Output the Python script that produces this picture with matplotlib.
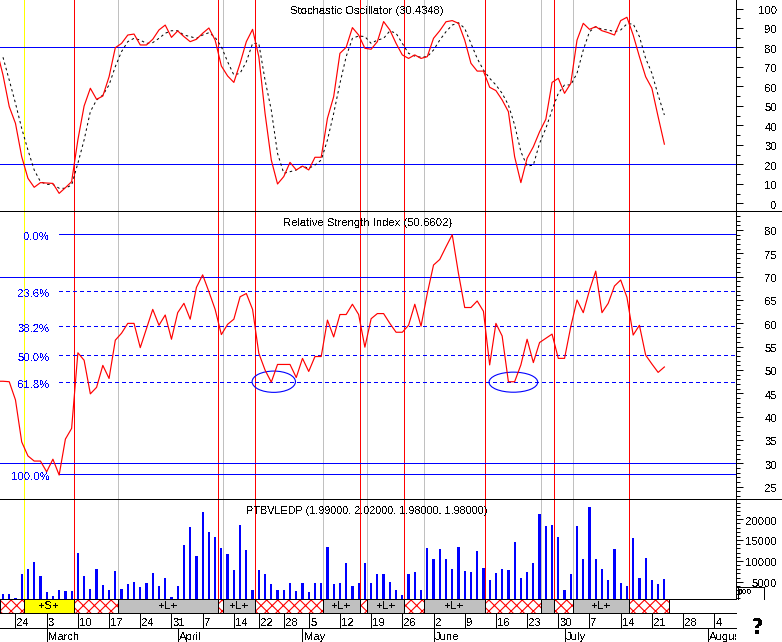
"""Stochastic, RSI and volume panels for PTBVLEDP, daily bars March to August"""

import matplotlib
matplotlib.use("Agg")
import matplotlib.pyplot as plt
from matplotlib.lines import Line2D
from matplotlib.patches import Ellipse, Rectangle

stoch_k = [65.9, 49.7, 41.1, 24.0, 12.9, 8.3, 10.7, 10.5, 10.3, 5.2, 8.1, 11.2, 32.6, 50.0, 59.1, 53.4, 55.1, 65.0,
           79.9, 82.1, 86.4, 86.9, 81.3, 81.3, 84.2, 89.0, 91.5, 85.2, 88.5, 85.6, 83.0, 84.2, 87.3, 90.0, 83.8, 70.5,
           65.4, 62.1, 71.9, 83.0, 89.3, 75.3, 46.2, 22.3, 10.0, 13.8, 21.1, 17.2, 19.2, 17.2, 23.7, 23.7, 43.7, 54.8,
           77.0, 80.1, 90.2, 86.4, 79.6, 79.1, 83.0, 93.3, 89.0, 82.1, 76.2, 74.4, 76.2, 74.4, 75.3, 84.7, 88.6, 93.2,
           93.8, 92.4, 83.8, 71.9, 67.9, 67.9, 59.6, 57.9, 53.1, 47.1, 24.0, 10.7, 23.2, 29.1, 36.8, 43.2, 62.1, 64.2,
           56.5, 61.6, 83.8, 92.4, 89.3, 90.7, 88.6, 87.6, 86.4, 93.8, 95.5, 86.4, 75.3, 65.0, 59.1, 44.5, 30.43]
stoch_d = [75.0, 63.3, 51.4, 38.5, 27.4, 17.2, 11.2, 9.8, 9.8, 7.8, 7.8, 9.5, 20.6, 32.6, 47.1, 53.1, 55.6, 60.8,
           70.2, 77.9, 83.0, 84.7, 83.8, 82.1, 82.5, 84.7, 87.3, 88.6, 88.6, 86.4, 85.6, 84.7, 86.4, 87.6, 85.2, 80.4,
           72.7, 65.9, 66.8, 72.7, 82.1, 82.1, 63.3, 47.9, 25.7, 15.5, 16.3, 17.2, 19.2, 18.0, 19.7, 22.3, 32.6, 46.2,
           61.6, 75.3, 84.7, 85.9, 85.6, 82.1, 83.8, 84.7, 88.5, 87.3, 82.1, 77.0, 75.6, 75.0, 75.3, 78.7, 83.8, 88.1,
           91.5, 92.7, 89.8, 82.1, 74.4, 68.5, 64.2, 60.8, 56.5, 50.5, 40.3, 26.6, 19.2, 19.7, 30.9, 38.5, 47.9, 56.5,
           60.8, 60.8, 66.8, 78.7, 88.1, 90.7, 89.3, 89.0, 88.1, 89.0, 92.1, 92.1, 85.6, 74.4, 66.8, 55.6, 45.4]
rsi = [47.6, 47.5, 43.6, 34.6, 31.6, 30.5, 30.5, 28.2, 30.9, 27.5, 35.2, 37.5, 53.7, 52.1, 44.9, 46.3, 51.0, 48.2,
       56.4, 57.9, 60.0, 60.0, 54.8, 58.9, 63.0, 59.6, 61.8, 56.6, 62.3, 64.3, 60.9, 67.7, 70.4, 66.8, 63.0, 57.6,
       59.8, 60.9, 65.7, 66.4, 63.0, 53.6, 50.0, 47.4, 51.2, 51.2, 51.2, 48.4, 52.5, 49.7, 52.9, 52.9, 60.7, 57.1,
       61.9, 61.9, 64.1, 61.9, 54.9, 61.0, 62.1, 62.1, 60.0, 58.1, 58.1, 59.6, 64.1, 59.4, 66.4, 72.5, 73.7, 76.4,
       79.0, 70.7, 63.4, 63.4, 64.8, 62.6, 51.1, 60.0, 57.3, 47.5, 47.5, 51.1, 56.6, 51.6, 55.9, 56.8, 57.7, 52.5,
       52.5, 59.3, 65.0, 62.3, 67.1, 71.2, 62.3, 64.3, 68.0, 69.3, 65.6, 57.5, 59.6, 53.2, 51.3, 49.5, 50.66]
volume = [2040, 2040, 1080, 6840, 8040, 9720, 6360, 2440, 1560, 3000, 2760, 2760, 11880, 6360, 3240, 8040, 4200, 3000,
          7560, 3240, 4440, 4920, 3720, 4680, 7080, 3960, 5880, 1320, 3960, 13800, 18120, 11160, 21720, 16920, 15720,
          13080, 11640, 7800, 18600, 12600, 3000, 7800, 6840, 4440, 3000, 3000, 4680, 2760, 4680, 2520, 4680, 4680,
          13320, 4440, 4680, 9480, 3960, 4680, 9480, 4680, 6840, 6840, 4920, 3000, 1800, 6840, 7320, 3000, 13080,
          10440, 12840, 10440, 8040, 13320, 7560, 7320, 12360, 8280, 5400, 7080, 8040, 7800, 14520, 5880, 7320, 9480,
          21240, 18360, 18600, 15720, 3000, 6840, 18360, 10440, 22920, 10440, 8040, 5400, 12840, 4680, 3960, 15480,
          5880, 10680, 5400, 4440, 5640]

red_days = [11.3, 34.4, 40.4, 57.2, 64.3, 77.3, 88.3, 100.4]
gray_days = [18.5, 35.3, 51.3, 58.4, 67.4, 86.3, 91.3]
yellow_days = [3.4]

fib_levels = [79.07, 66.86, 59.36, 53.14, 47.36, 27.64]
fib_labels = ["0.0%", "23.6%", "38.2%", "50.0%", "61.8%", "100.0%"]
fib_solid = [True, False, False, False, False, True]

signal_edges = [-0.4, 3.4, 11.3, 18.5, 34.4, 35.3, 40.4, 51.3, 57.2, 58.4, 64.3, 67.4, 77.3, 86.3, 88.3, 91.3, 100.4, 106.8]
signal_kinds = ["x", "+S+", "x", "+L+", "x", "+L+", "x", "+L+", "x", "+L+", "x", "+L+", "x", "", "x", "+L+", "x"]

date_ticks = [2, 7, 12, 17, 22, 27, 32, 37, 41, 45, 49, 54, 59, 64, 69, 74, 79, 84, 89, 94, 99, 104, 109, 114]
date_labels = ["24", "3", "10", "17", "24", "31", "7", "14", "22", "28", "5", "12", "19", "26", "2", "9", "16", "23",
               "30", "7", "14", "21", "28", "4"]
month_ticks = [7, 28, 48, 69, 90, 113]
month_labels = ["March", "April", "May", "June", "July", "August"]

WIDTH, HEIGHT = 782, 642
PANEL_RIGHT = 735.5
BLUE = "#0000ff"
RED = "#ff0000"
GRAY = "#c0c0c0"
YELLOW = "#ffff00"
FONT = "Liberation Sans"
FS = 8.1
XLIM = (-0.48, 117.4)
THIN = 0.72
LABEL_DROP = -1.6

plt.rcParams["font.family"] = FONT
plt.rcParams["font.size"] = FS
plt.rcParams["lines.antialiased"] = False
plt.rcParams["patch.antialiased"] = False
plt.rcParams["text.antialiased"] = False
plt.rcParams["hatch.linewidth"] = 0.8
plt.rcParams["hatch.color"] = RED


def panel(fig, top, bottom):
    """Axes between two pixel rows of the image, x shared through XLIM"""
    ax = fig.add_axes([0, 1 - bottom / HEIGHT, PANEL_RIGHT / WIDTH, (bottom - top) / HEIGHT])
    ax.set_xlim(*XLIM)
    ax.set_xticks([])
    for side in ("left", "top", "bottom"):
        ax.spines[side].set_visible(False)
    ax.spines["right"].set_linewidth(THIN)
    ax.patch.set_alpha(0)
    return ax


def right_ticks(ax, major, minor, labels):
    ax.yaxis.tick_right()
    ax.set_yticks(major)
    ax.set_yticklabels([])
    ax.set_yticks(minor, minor=True)
    ax.tick_params(axis="y", which="major", length=5.2, width=THIN, pad=0)
    ax.tick_params(axis="y", which="minor", length=2.6, width=THIN)
    for value, label in zip(major, labels):
        ax.annotate(label, (1, value), xycoords=ax.get_yaxis_transform(), xytext=(30, LABEL_DROP),
                    textcoords="offset points", ha="right", va="center", fontsize=FS)


def event_lines(ax):
    for day in gray_days:
        ax.axvline(day, color=GRAY, lw=THIN, zorder=1)
    for day in yellow_days:
        ax.axvline(day, color=YELLOW, lw=THIN, zorder=2)
    for day in red_days:
        ax.axvline(day, color=RED, lw=THIN, zorder=2)


def fig_line(fig, x0, x1, y0, y1):
    fig.add_artist(Line2D([x0 / WIDTH, x1 / WIDTH], [1 - y0 / HEIGHT, 1 - y1 / HEIGHT],
                          color="black", lw=THIN, transform=fig.transFigure))


fig = plt.figure(figsize=(WIDTH / 100, HEIGHT / 100), dpi=100, facecolor="white")
days = list(range(len(rsi)))

# stochastic panel
ax_st = panel(fig, 0, 211)
ax_st.set_ylim(-3.85, 104.36)
event_lines(ax_st)
for level in (20, 80):
    ax_st.axhline(level, color=BLUE, lw=THIN, zorder=3)
ax_st.plot(days, stoch_d, color="black", lw=THIN, dashes=(2.5, 3), antialiased=True, zorder=4)
ax_st.plot([-1] + days, [78.7] + stoch_k, color=RED, lw=0.85, antialiased=True, zorder=5)
ax_st.text(58.3, 1 - 11.5 / 211, "Stochastic Oscillator (30.4348)", transform=ax_st.get_xaxis_transform(),
           ha="center", va="center")
right_ticks(ax_st, list(range(0, 101, 10)), list(range(5, 100, 10)), [str(v) for v in range(0, 101, 10)])

# RSI panel
ax_rsi = panel(fig, 211, 499)
ax_rsi.set_ylim(22.37, 84.08)
event_lines(ax_rsi)
for level in (30, 70):
    ax_rsi.axhline(level, color=BLUE, lw=THIN, zorder=3)
fib_start = 59.3 / PANEL_RIGHT
for level, label, solid in zip(fib_levels, fib_labels, fib_solid):
    ax_rsi.axhline(level, xmin=fib_start, color=BLUE, lw=THIN, zorder=3,
                   **({} if solid else {"dashes": (3, 3)}))
    ax_rsi.annotate(label, (0, level), xycoords=ax_rsi.get_yaxis_transform(), xytext=(35.5, LABEL_DROP),
                    textcoords="offset points", ha="right", va="center", color=BLUE, fontsize=FS)
ax_rsi.add_patch(Ellipse((43.4, 47.5), 6.95, 4.56, fill=False, edgecolor=BLUE, lw=0.8, antialiased=True, zorder=4))
ax_rsi.add_patch(Ellipse((81.8, 47.4), 7.8, 4.3, fill=False, edgecolor=BLUE, lw=0.8, antialiased=True, zorder=4))
ax_rsi.plot([-1] + days, [47.6] + rsi, color=RED, lw=0.85, antialiased=True, zorder=5)
ax_rsi.text(58.4, 1 - 12 / 288, "Relative Strength Index (50.6602)", transform=ax_rsi.get_xaxis_transform(),
            ha="center", va="center")
right_ticks(ax_rsi, list(range(25, 81, 5)), [v for v in range(23, 85) if v % 5], [str(v) for v in range(25, 81, 5)])

# volume panel
ax_vol = panel(fig, 499, 599)
ax_vol.set_ylim(841, 24880)
event_lines(ax_vol)
ax_vol.bar(days, volume, width=0.36, bottom=0, color=BLUE, zorder=3)
ax_vol.text(58.3, 1 - 11.5 / 100, "PTBVLEDP (1.99000, 2.02000, 1.98000, 1.98000)", transform=ax_vol.get_xaxis_transform(),
            ha="center", va="center", zorder=6, fontsize=7.8)
right_ticks(ax_vol, [5000, 10000, 15000, 20000], [v for v in range(1000, 25000, 1000) if v % 5000],
            ["5000", "10000", "15000", "20000"])

# signal strip
ax_sig = panel(fig, 599, 613)
ax_sig.spines["right"].set_visible(False)
ax_sig.set_yticks([])
ax_sig.set_ylim(0, 1)
for left, right, kind in zip(signal_edges[:-1], signal_edges[1:], signal_kinds):
    if kind == "x":
        ax_sig.add_patch(Rectangle((left, 0), right - left, 1, facecolor="white", edgecolor=RED, hatch="xxx", lw=0))
    else:
        ax_sig.add_patch(Rectangle((left, 0), right - left, 1, facecolor=YELLOW if kind == "+S+" else GRAY, lw=0))
        ax_sig.text((left + right) / 2, 0.5, kind, ha="center", va="center")
    ax_sig.plot([left, left], [0, 1], color="black", lw=THIN)
ax_sig.plot([signal_edges[-1]] * 2, [0, 1], color="black", lw=THIN)

# date rows
ax_date = panel(fig, 613, 628)
ax_date.spines["right"].set_visible(False)
ax_date.set_yticks([])
ax_date.set_ylim(0, 1)
for day, label in zip(date_ticks, date_labels):
    ax_date.plot([day, day], [0, 1], color="black", lw=THIN)
    ax_date.annotate(label, (day, 0.32), xytext=(1, 0), textcoords="offset points", va="center", ha="left")

ax_month = panel(fig, 628, 642)
ax_month.spines["right"].set_visible(False)
ax_month.set_yticks([])
ax_month.set_ylim(0, 1)
for day, label in zip(month_ticks, month_labels):
    ax_month.plot([day, day], [0, 1], color="black", lw=THIN)
    text = ax_month.text(day + 0.2, 0.38, label, va="center", ha="left")
    text.set_clip_on(True)

# separators
fig_line(fig, 0, WIDTH, 211, 211)
fig_line(fig, 0, WIDTH, 499, 499)
fig_line(fig, 0, PANEL_RIGHT, 599, 599)
fig_line(fig, 0, PANEL_RIGHT, 613, 613)
fig_line(fig, 0, PANEL_RIGHT, 628, 628)

# small scroll widget and help mark
fig_line(fig, PANEL_RIGHT, 763.5, 587, 587)
fig_line(fig, 763.5, 763.5, 587, 599)
fig_line(fig, 737.5, 737.5, 586, 599)
fig_line(fig, 735.5, 737.5, 586, 586)
fig.text(738 / WIDTH, 1 - 593 / HEIGHT, "000", fontsize=6, fontweight="bold", va="center", ha="left")
fig.text(757.5 / WIDTH, 1 - 628.5 / HEIGHT, "?", fontsize=16, fontweight="bold", va="center", ha="center",
         family="DejaVu Sans")

fig.savefig("out.png", dpi=100)
